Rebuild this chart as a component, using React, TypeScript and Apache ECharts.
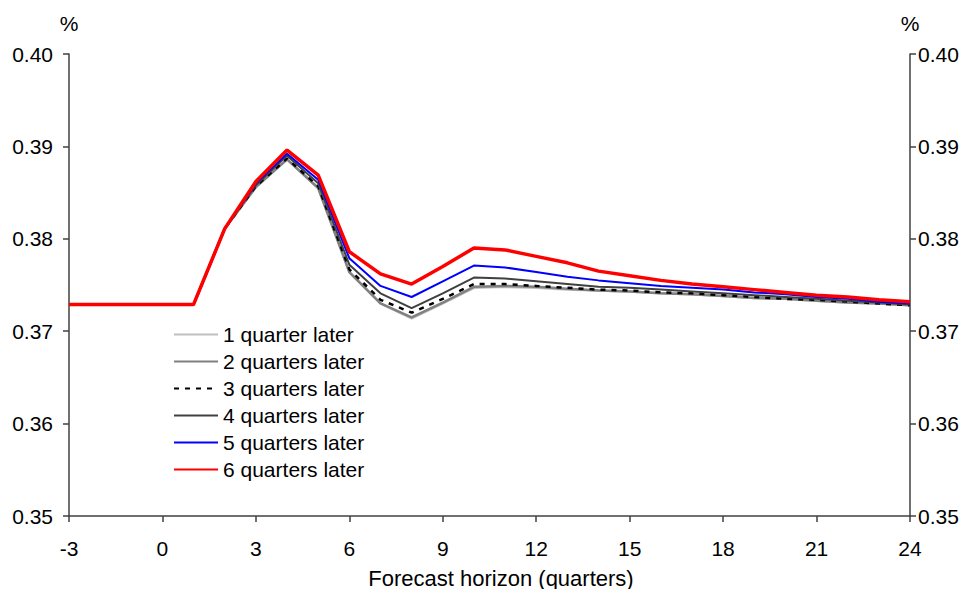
// Forecast revisions by horizon – line chart (ECharts, svg renderer).
import { useEffect, useRef } from "react";
import * as echarts from "echarts";

const horizons = [-3, -2, -1, 0, 1, 2, 3, 4, 5, 6, 7, 8, 9, 10, 11, 12, 13, 14, 15, 16, 17, 18, 19, 20, 21, 22, 23, 24];

const q1 = [0.3729, 0.3729, 0.3729, 0.3729, 0.3729, 0.3811, 0.3856, 0.3886, 0.3855, 0.3764, 0.3730, 0.3714, 0.3730, 0.3747, 0.3748, 0.3747, 0.3745, 0.3744, 0.3743, 0.3741, 0.3740, 0.3738, 0.3736, 0.3735, 0.3733, 0.3731, 0.3730, 0.3728];
const q2 = [0.3729, 0.3729, 0.3729, 0.3729, 0.3729, 0.3811, 0.3856, 0.3886, 0.3855, 0.3764, 0.3730, 0.3715, 0.3731, 0.3748, 0.3749, 0.3748, 0.3746, 0.3744, 0.3743, 0.3741, 0.3740, 0.3738, 0.3736, 0.3735, 0.3733, 0.3731, 0.3730, 0.3728];
const q3 = [0.3729, 0.3729, 0.3729, 0.3729, 0.3729, 0.3811, 0.3857, 0.3887, 0.3857, 0.3767, 0.3734, 0.3720, 0.3735, 0.3751, 0.3751, 0.3749, 0.3747, 0.3745, 0.3744, 0.3742, 0.3741, 0.3739, 0.3737, 0.3735, 0.3734, 0.3732, 0.3730, 0.3728];
const q4 = [0.3729, 0.3729, 0.3729, 0.3729, 0.3729, 0.3811, 0.3858, 0.3890, 0.3860, 0.3772, 0.3741, 0.3725, 0.3741, 0.3758, 0.3757, 0.3754, 0.3751, 0.3748, 0.3747, 0.3745, 0.3743, 0.3741, 0.3739, 0.3737, 0.3735, 0.3733, 0.3731, 0.3729];
const q5 = [0.3729, 0.3729, 0.3729, 0.3729, 0.3729, 0.3811, 0.3860, 0.3892, 0.3864, 0.3779, 0.3749, 0.3737, 0.3754, 0.3771, 0.3769, 0.3764, 0.3759, 0.3755, 0.3752, 0.3749, 0.3747, 0.3745, 0.3742, 0.3740, 0.3737, 0.3735, 0.3732, 0.3730];
const q6 = [0.3729, 0.3729, 0.3729, 0.3729, 0.3729, 0.3811, 0.3862, 0.3896, 0.3869, 0.3786, 0.3762, 0.3751, 0.3770, 0.3790, 0.3788, 0.3781, 0.3774, 0.3765, 0.3760, 0.3755, 0.3751, 0.3748, 0.3745, 0.3742, 0.3739, 0.3737, 0.3734, 0.3732];

const seriesNames = ["1 quarter later", "2 quarters later", "3 quarters later", "4 quarters later", "5 quarters later", "6 quarters later"];
const seriesValues = [q1, q2, q3, q4, q5, q6];

const FONT = "Arial, 'Liberation Sans', sans-serif";

const lineStyles: any[] = [
  { color: "#c0c0c0", width: 2.5 },
  { color: "#808080", width: 2.5 },
  { color: "#000000", width: 2.5, type: [5, 6] },
  { color: "#404040", width: 2 },
  { color: "#0000ff", width: 2 },
  { color: "#ff0000", width: 3.5 },
];

const axisLine = { show: true, onZero: false, lineStyle: { color: "#404040", width: 1.5 } };
const axisTick = { show: true, length: 6, lineStyle: { color: "#404040", width: 1.5 } };
const label = { color: "#000", fontSize: 21, fontFamily: FONT };

export default function App() {
  const ref = useRef<HTMLDivElement>(null);

  useEffect(() => {
    if (!ref.current) return;
    const chart = echarts.init(ref.current, null, { renderer: "svg" });
    const yAxis = (position: string, margin: number) => ({
      type: "value",
      min: 0.35,
      max: 0.4,
      interval: 0.01,
      position,
      name: "%",
      nameLocation: "end",
      nameGap: 20,
      nameTextStyle: { ...label, align: "center" },
      axisLine,
      axisTick,
      axisLabel: { ...label, margin, formatter: (v: number) => v.toFixed(2) },
      splitLine: { show: false },
    });
    chart.setOption({
      animation: false,
      backgroundColor: "#fff",
      grid: { left: 69, right: 60, top: 54, bottom: 73, outerBoundsMode: "none" },
      legend: {
        orient: "vertical",
        left: 173,
        top: 324,
        padding: 0,
        itemWidth: 44,
        itemHeight: 20,
        itemGap: 6,
        itemStyle: { opacity: 0 },
        textStyle: { ...label, lineHeight: 20 },
        data: seriesNames,
      },
      xAxis: {
        type: "value",
        min: -3,
        max: 24,
        interval: 3,
        name: "Forecast horizon (quarters)",
        nameLocation: "middle",
        nameGap: 51,
        nameTextStyle: { ...label, fontSize: 22, padding: [0, 0, 0, 23] },
        axisLine,
        axisTick,
        axisLabel: { ...label, margin: 22 },
        splitLine: { show: false },
      },
      yAxis: [yAxis("left", 16), yAxis("right", 8)],
      series: seriesNames.map((name, i) => ({
        name,
        type: "line",
        yAxisIndex: 0,
        symbol: "none",
        showSymbol: false,
        lineStyle: lineStyles[i],
        itemStyle: { color: lineStyles[i].color },
        data: horizons.map((h, j) => [h, seriesValues[i][j]]),
      })),
    });
    return () => chart.dispose();
  }, []);

  return (
    <div
      ref={ref}
      style={{ position: "fixed", left: 0, top: 0, width: 970, height: 589, background: "#fff" }}
    />
  );
}
